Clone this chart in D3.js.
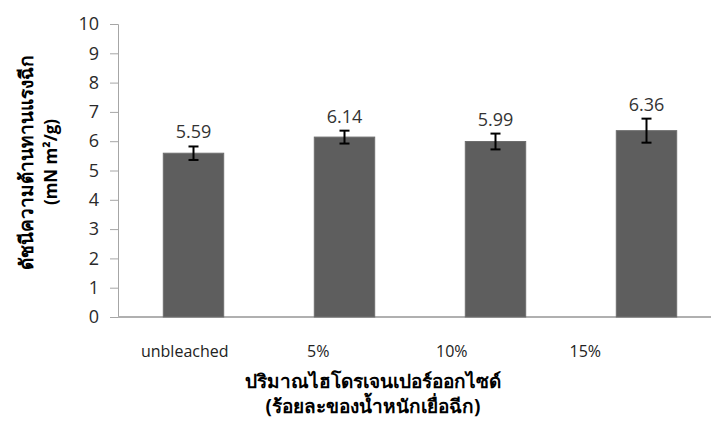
<!DOCTYPE html>
<html>
<head>
<meta charset="utf-8">
<script src="https://cdn.jsdelivr.net/npm/d3@7"></script>
<style>
  body { margin: 0; background: #fff; }
  text { font-family: "Open Sans", "Noto Sans", "DejaVu Sans", sans-serif; }
</style>
</head>
<body>
<script>
// data
var categories = ["unbleached", "5%", "10%", "15%"];
var values = [5.59, 6.14, 5.99, 6.36];
var errors = [0.23, 0.22, 0.27, 0.41];
var yTicks = [0, 1, 2, 3, 4, 5, 6, 7, 8, 9, 10];

var width = 711, height = 425;
var plotLeft = 118, plotTop = 24, plotBottom = 317;

var svg = d3.select("body").append("svg")
    .attr("width", width)
    .attr("height", height);

var y = d3.scaleLinear().domain([0, 10]).range([plotBottom, plotTop]);

// bars sit on a wider band than the category labels (as in the original)
var x = d3.scaleBand().domain(categories)
    .range([plotLeft, plotLeft + 604])
    .paddingInner(0.6)
    .paddingOuter(0.3);
var xLab = d3.scaleBand().domain(categories).range([plotLeft, plotLeft + 534]);

// y axis
var yAxis = svg.append("g")
    .attr("transform", "translate(" + plotLeft + ",0)")
    .call(d3.axisLeft(y).tickValues(yTicks).tickSize(8).tickPadding(11));
yAxis.select(".domain").attr("stroke", "#a6a6a6");
yAxis.selectAll(".tick line").attr("stroke", "#a6a6a6");
yAxis.selectAll(".tick text")
    .attr("fill", "#2a2a2a")
    .style("font-size", "18px");

// x axis line
svg.append("line")
    .attr("x1", plotLeft).attr("x2", width)
    .attr("y1", y(0)).attr("y2", y(0))
    .attr("stroke", "#b0b0b0")
    .attr("stroke-width", 2);

var data = categories.map(function (c, i) {
    return { cat: c, val: values[i], err: errors[i] };
});

svg.selectAll(".bar")
    .data(data)
    .enter().append("rect")
    .attr("class", "bar")
    .attr("x", function (d) { return x(d.cat); })
    .attr("width", x.bandwidth())
    .attr("y", function (d) { return y(d.val); })
    .attr("height", function (d) { return y(0) - y(d.val); })
    .attr("fill", "#5e5e5e")
    .attr("stroke", "#6e6e6e")
    .attr("stroke-width", 1);

// error bars
var eb = svg.selectAll(".err")
    .data(data)
    .enter().append("g")
    .attr("class", "err")
    .attr("stroke", "#000")
    .attr("stroke-width", 2);
eb.append("line")
    .attr("x1", function (d) { return x(d.cat) + x.bandwidth() / 2; })
    .attr("x2", function (d) { return x(d.cat) + x.bandwidth() / 2; })
    .attr("y1", function (d) { return y(d.val + d.err); })
    .attr("y2", function (d) { return y(d.val - d.err); });
[1, -1].forEach(function (s) {
    eb.append("line")
        .attr("x1", function (d) { return x(d.cat) + x.bandwidth() / 2 - 5; })
        .attr("x2", function (d) { return x(d.cat) + x.bandwidth() / 2 + 5; })
        .attr("y1", function (d) { return y(d.val + s * d.err); })
        .attr("y2", function (d) { return y(d.val + s * d.err); });
});

// value labels
svg.selectAll(".lbl")
    .data(data)
    .enter().append("text")
    .attr("x", function (d) { return x(d.cat) + x.bandwidth() / 2; })
    .attr("y", function (d) { return y(d.val + d.err) - 8; })
    .attr("text-anchor", "middle")
    .attr("fill", "#333")
    .style("font-size", "18px")
    .text(function (d) { return d.val.toFixed(2); });

// category labels
svg.selectAll(".cat")
    .data(categories)
    .enter().append("text")
    .attr("x", function (d) { return xLab(d) + xLab.bandwidth() / 2; })
    .attr("y", 357)
    .attr("text-anchor", "middle")
    .attr("fill", "#222")
    .style("font-size", "16px")
    .text(function (d) { return d; });

// axis titles
var xt = svg.append("text")
    .attr("text-anchor", "middle")
    .attr("font-weight", "bold")
    .style("font-size", "19px")
    .attr("fill", "#000");
xt.append("tspan").attr("x", 373).attr("y", 388).text("ปริมาณไฮโดรเจนเปอร์ออกไซด์");
xt.append("tspan").attr("x", 373).attr("y", 413).text("(ร้อยละของน้ำหนักเยื่อฉีก)");

var yt = svg.append("text")
    .attr("transform", "translate(26,162) rotate(-90)")
    .attr("text-anchor", "middle")
    .attr("font-weight", "bold")
    .style("font-size", "19px")
    .attr("fill", "#000");
yt.append("tspan").attr("x", 0).attr("y", 7).text("ดัชนีความต้านทานแรงฉีก");
yt.append("tspan").attr("x", 0).attr("y", 31).style("font-size", "17px").text("(mN m²/g)");
</script>
</body>
</html>
